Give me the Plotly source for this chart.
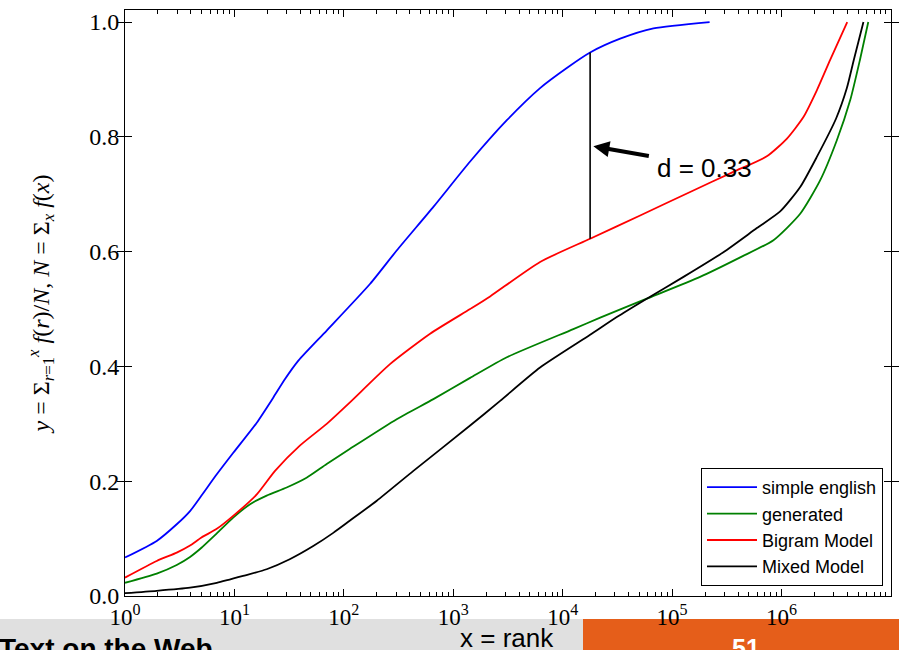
import plotly.graph_objects as go

# ---- data ----
blue_x = [1, 1.95, 2.97, 3.93, 5, 6.9, 9.8, 16, 22.7, 29, 38.4, 69.7, 174, 304, 658, 1425,
          3086, 6210, 10900, 17800, 33500, 67500, 220000]
blue_y = [0.067, 0.096, 0.125, 0.148, 0.175, 0.212, 0.25, 0.302, 0.346, 0.378, 0.41, 0.4625,
          0.544, 0.602, 0.678, 0.757, 0.829, 0.885, 0.92, 0.947, 0.971, 0.989, 1.0]

green_x = [1, 1.95, 2.97, 3.93, 5, 6.9, 9.8, 13.9, 19.7, 30, 45.6, 69.7, 113, 304, 658, 1425,
           3086, 12500, 22000, 58600, 180000, 419000, 843000, 1.48e6, 2.25e6, 3.2e6, 4.24e6,
           5.2e6, 6.2e6]
green_y = [0.023, 0.039, 0.054, 0.068, 0.084, 0.109, 0.137, 0.16, 0.175, 0.189, 0.206, 0.23,
           0.256, 0.308, 0.343, 0.38, 0.416, 0.465, 0.485, 0.518, 0.556, 0.59, 0.62, 0.666,
           0.724, 0.794, 0.864, 0.934, 1.0]

red_x = [1, 1.95, 2.97, 3.93, 5, 6.9, 9.8, 16, 23.5, 39.6, 69.7, 113, 264, 614, 1425, 2170,
         6210, 17800, 51000, 146000, 363000, 733000, 1.12e6, 1.59e6, 2.1e6, 2.78e6, 3.98e6]
red_y = [0.032, 0.061, 0.0756, 0.088, 0.102, 0.117, 0.14, 0.177, 0.218, 0.262, 0.3, 0.337,
         0.404, 0.457, 0.5, 0.522, 0.582, 0.6225, 0.663, 0.704, 0.739, 0.766, 0.797, 0.835,
         0.881, 0.934, 1.0]

black_x = [1, 1.95, 3.93, 6.9, 12, 19.7, 32, 52.5, 80, 113, 200, 432, 1425, 2680, 6210, 17800,
           31200, 58600, 127000, 294000, 594000, 971000, 1.48e6, 2.1e6, 3.15e6, 3.95e6,
           4.57e6, 5.6e6]
black_y = [0.005, 0.009, 0.0145, 0.023, 0.035, 0.0466, 0.064, 0.087, 0.11, 0.131, 0.166, 0.218,
           0.297, 0.34, 0.398, 0.455, 0.486, 0.518, 0.556, 0.599, 0.641, 0.67, 0.7125,
           0.765, 0.832, 0.885, 0.934, 1.0]

names = ["simple english", "generated", "Bigram Model", "Mixed Model"]
colors = ["#0000ff", "#008000", "#ff0000", "#000000"]

x_tickvals = [1, 10, 100, 1000, 1e4, 1e5, 1e6, 1e7]
x_ticktext = ["10<sup>%d</sup>" % i for i in range(8)]
x_minor_vals = [m * 10 ** e for e in range(7) for m in range(2, 10)]
y_tickvals = [0.0, 0.2, 0.4, 0.6, 0.8, 1.0]
y_ticktext = ["0.0", "0.2", "0.4", "0.6", "0.8", "1.0"]

d_x = 17800
d_top = 0.947
d_bot = 0.6225
d_label = "d = 0.33"

fig = go.Figure()
for xs, ys, n, c in zip([blue_x, green_x, red_x, black_x], [blue_y, green_y, red_y, black_y], names, colors):
    fig.add_trace(go.Scatter(x=xs, y=ys, mode="lines", name=n,
                             line=dict(color=c, width=1.8, shape="spline", smoothing=0.6)))

# vertical distance line (drawn on the overlay axis, which has the same log scale,
# so that the overlay axis carrying the minor ticks is rendered)
fig.add_trace(go.Scatter(x=[d_x, d_x], y=[d_bot, d_top], mode="lines", xaxis="x2", yaxis="y",
                         line=dict(color="black", width=1.6), showlegend=False, hoverinfo="skip"))

serif = "Liberation Serif, DejaVu Serif, serif"
sans = "Liberation Sans, Arial, sans-serif"

fig.update_layout(
    width=899, height=650,
    margin=dict(l=125, r=8, t=10, b=54),
    paper_bgcolor="white", plot_bgcolor="white",
    showlegend=True,
    legend=dict(x=(883 - 125) / 766, y=(596 - 586) / 586, xanchor="right", yanchor="bottom",
                bordercolor="black", borderwidth=1, bgcolor="white",
                font=dict(family=sans, size=18, color="black"),
                itemwidth=50, tracegroupgap=0),
    xaxis=dict(type="log", range=[0, 7], tickvals=x_tickvals, ticktext=x_ticktext,
               ticks="inside", ticklen=7, tickcolor="black", mirror="allticks",
               showline=True, linecolor="black", linewidth=1, showgrid=False, zeroline=False,
               tickfont=dict(family=serif, size=23, color="black")),
    xaxis2=dict(type="log", range=[0, 7], overlaying="x", anchor="y", side="bottom",
                tickmode="array", tickvals=x_minor_vals, showticklabels=False,
                ticks="inside", ticklen=4, tickcolor="black", tickwidth=1, mirror="allticks",
                showline=False, showgrid=False, zeroline=False),
    yaxis=dict(range=[0, 1.021], tickvals=y_tickvals, ticktext=y_ticktext,
               ticks="inside", ticklen=7, tickcolor="black", mirror="allticks",
               showline=True, linecolor="black", linewidth=1, showgrid=False, zeroline=False,
               tickfont=dict(family=serif, size=24, color="black"),
               title=dict(text="<i>y</i> = Σ<sub><i>r</i>=1</sub><sup><i>x</i></sup> "
                               "<i>f</i>(<i>r</i>)/<i>N</i>, <i>N</i> = Σ<sub><i>x</i></sub> "
                               "<i>f</i>(<i>x</i>)",
                          font=dict(family=serif, size=24, color="black"), standoff=32)),
)

# annotation arrow (head on the distance line, tail towards the label)
fig.add_annotation(x=4.28, y=(595 - 146) / 573, xref="x", yref="y", ax=57, ay=10,
                   text="", showarrow=True, arrowhead=2, arrowsize=0.8, arrowwidth=4,
                   arrowcolor="black", standoff=0)
fig.add_annotation(x=(655 - 125) / 766, y=(596 - 168) / 586, xref="paper", yref="paper",
                   text=d_label, showarrow=False, xanchor="left", yanchor="middle",
                   font=dict(family=sans, size=26, color="black"))

# bottom strip
fig.add_shape(type="rect", xref="paper", yref="paper", x0=-125 / 766, x1=(583 - 125) / 766,
              y0=-(660 - 596) / 586, y1=-(619 - 596) / 586, fillcolor="#e0e0e0",
              line=dict(width=0), layer="below")
fig.add_shape(type="rect", xref="paper", yref="paper", x0=(583 - 125) / 766, x1=(910 - 125) / 766,
              y0=-(660 - 596) / 586, y1=-(619 - 596) / 586, fillcolor="#e55e1a",
              line=dict(width=0), layer="below")
fig.add_annotation(x=-128 / 766, y=-(648 - 596) / 586, xref="paper", yref="paper",
                   text="<b>Text on the Web</b>", showarrow=False, xanchor="left", yanchor="middle",
                   font=dict(family=sans, size=28, color="black"))
fig.add_annotation(x=(507 - 125) / 766, y=-(638 - 596) / 586, xref="paper", yref="paper",
                   text="x = rank", showarrow=False, xanchor="center", yanchor="middle",
                   font=dict(family=sans, size=26, color="black"))
fig.add_annotation(x=(746 - 125) / 766, y=-(648 - 596) / 586, xref="paper", yref="paper",
                   text="<b>51</b>", showarrow=False, xanchor="center", yanchor="middle",
                   font=dict(family=sans, size=25, color="white"))

fig.write_html("out.html", config={"displayModeBar": False},
               post_script="document.body.style.margin='0';document.body.style.overflow='hidden';")
